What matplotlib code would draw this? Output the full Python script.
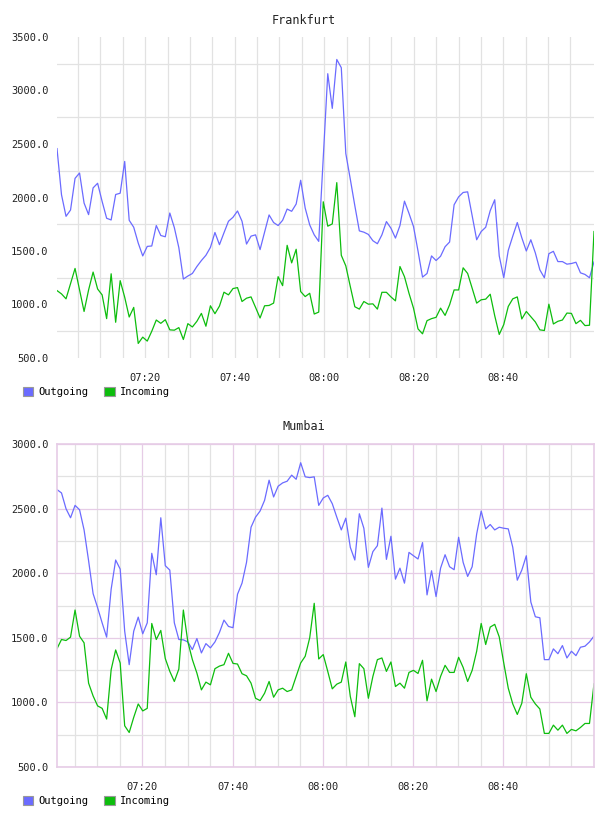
import pandas as pd
import matplotlib
matplotlib.use("Agg")
import matplotlib.pyplot as plt
import matplotlib.dates as mdates
from matplotlib.patches import Patch
from matplotlib.ticker import FormatStrFormatter

plt.rcParams['font.family'] = ['DejaVu Sans Mono']

# Frankfurt, one sample per minute
fra_out = [2457, 2025, 1824, 1883, 2179, 2229, 1948, 1840, 2090, 2133,
           1963, 1806, 1790, 2028, 2040, 2337, 1787, 1722, 1574, 1454,
           1543, 1547, 1738, 1645, 1633, 1855, 1719, 1531, 1238, 1266,
           1290, 1355, 1411, 1460, 1534, 1673, 1559, 1670, 1778, 1815,
           1874, 1778, 1565, 1639, 1651, 1513, 1676, 1837, 1766, 1738,
           1787, 1892, 1871, 1939, 2161, 1901, 1744, 1651, 1590, 2370,
           3157, 2833, 3290, 3213, 2411, 2170, 1923, 1688, 1676, 1655,
           1596, 1568, 1651, 1775, 1713, 1621, 1738, 1966, 1852, 1729,
           1500, 1256, 1290, 1454, 1411, 1451, 1540, 1584, 1932, 2006,
           2047, 2053, 1830, 1605, 1682, 1722, 1877, 1979, 1454, 1250,
           1506, 1639, 1766, 1624, 1500, 1605, 1482, 1324, 1250, 1475,
           1497, 1401, 1401, 1377, 1383, 1395, 1296, 1281, 1250, 1398]
fra_in = [1130, 1099, 1053, 1195, 1337, 1136, 935, 1136, 1303, 1145,
          1090, 868, 1287, 834, 1223, 1068, 883, 973, 636, 695,
          658, 750, 855, 824, 858, 763, 760, 784, 673, 821,
          790, 843, 917, 797, 988, 914, 985, 1115, 1090, 1149,
          1158, 1028, 1059, 1071, 973, 874, 988, 991, 1013, 1260,
          1176, 1553, 1389, 1516, 1121, 1074, 1105, 911, 929, 1960,
          1732, 1753, 2139, 1460, 1361, 1167, 979, 957, 1028, 1003,
          1006, 957, 1114, 1114, 1071, 1034, 1355, 1260, 1105, 966,
          772, 726, 849, 868, 880, 966, 898, 997, 1136, 1136,
          1343, 1290, 1152, 1013, 1044, 1050, 1096, 895, 720, 812,
          982, 1053, 1071, 865, 935, 886, 837, 763, 757, 1003,
          818, 843, 855, 920, 917, 821, 852, 803, 806, 1682]

# Mumbai
mum_out = [2647, 2621, 2499, 2429, 2525, 2491, 2335, 2097, 1842, 1733,
           1616, 1505, 1876, 2102, 2032, 1551, 1292, 1551, 1660, 1531,
           1616, 2154, 1988, 2429, 2058, 2024, 1616, 1487, 1484, 1468,
           1409, 1494, 1383, 1455, 1422, 1468, 1541, 1637, 1588, 1578,
           1837, 1923, 2084, 2356, 2434, 2481, 2564, 2720, 2590, 2673,
           2699, 2712, 2759, 2727, 2855, 2746, 2740, 2746, 2525, 2582,
           2603, 2538, 2434, 2335, 2426, 2200, 2102, 2460, 2348, 2045,
           2167, 2213, 2504, 2107, 2286, 1954, 2039, 1923, 2161, 2135,
           2110, 2237, 1832, 2019, 1819, 2039, 2143, 2050, 2027, 2278,
           2084, 1975, 2050, 2304, 2481, 2343, 2377, 2335, 2356, 2348,
           2343, 2200, 1946, 2024, 2135, 1777, 1663, 1655, 1331, 1331,
           1414, 1377, 1440, 1344, 1396, 1362, 1427, 1435, 1468, 1513]
mum_in = [1416, 1487, 1479, 1505, 1715, 1512, 1461, 1149, 1050, 973,
          954, 871, 1253, 1406, 1305, 819, 767, 884, 988, 934,
          954, 1611, 1487, 1557, 1339, 1240, 1162, 1258, 1715, 1468,
          1331, 1227, 1097, 1157, 1136, 1261, 1281, 1292, 1380, 1302,
          1297, 1222, 1206, 1149, 1032, 1014, 1071, 1162, 1040, 1097,
          1110, 1084, 1097, 1201, 1305, 1357, 1500, 1767, 1336, 1370,
          1240, 1105, 1141, 1157, 1313, 1045, 889, 1300, 1261, 1032,
          1201, 1331, 1344, 1240, 1313, 1123, 1149, 1110, 1232, 1248,
          1224, 1326, 1012, 1180, 1084, 1201, 1287, 1232, 1232, 1349,
          1271, 1162, 1248, 1396, 1611, 1448, 1583, 1604, 1507, 1305,
          1110, 988, 907, 993, 1222, 1040, 988, 949, 760, 760,
          824, 785, 824, 760, 791, 780, 806, 837, 837, 1144]

fra_time = pd.date_range("2013-05-01 07:00:17", periods=len(fra_out), freq="60500ms")
mum_time = pd.date_range("2013-05-01 07:01:04", periods=len(mum_out), freq="60s")

# labelled ticks every 20 min, grid every 5 min (inside the data range)
label_ticks = pd.date_range("2013-05-01 07:20", "2013-05-01 08:40", freq="20min")
grid_ticks = pd.date_range("2013-05-01 07:05", "2013-05-01 08:55", freq="5min")

BLUE = "#6b6bff"
GREEN = "#0dbd0d"
GREY = "#e2e2e2"
PINK = "#e6cce6"
W, H = 608, 816

fig = plt.figure(figsize=(W / 100, H / 100), dpi=100)


def panel(top, bottom, t, out, inc, ymax, title, pink):
    ax = fig.add_axes([57 / W, 1 - bottom / H, 537 / W, (bottom - top) / H])
    ax.plot(t, out, color=BLUE, lw=0.9)
    ax.plot(t, inc, color=GREEN, lw=0.9)
    ax.set_xlim(t[0], t[-1])
    ax.set_ylim(500, ymax)
    ax.set_axisbelow(True)

    ax.set_yticks(range(500, ymax + 1, 500))
    ax.set_yticks(range(750, ymax, 500), minor=True)
    ax.yaxis.set_major_formatter(FormatStrFormatter('%.1f'))
    ax.set_xticks(label_ticks)
    ax.set_xticks([g for g in grid_ticks if g.minute % 20 != 0], minor=True)
    ax.xaxis.set_major_formatter(mdates.DateFormatter('%H:%M'))
    ax.tick_params(which='both', length=0, labelsize=7.5, colors='#222222')
    ax.tick_params(axis='x', pad=11)
    ax.tick_params(axis='y', pad=6)

    ax.grid(which='minor', color=GREY, lw=0.9)
    if pink:
        ax.grid(which='major', color=PINK, lw=0.9)
        for s in ax.spines.values():
            s.set_color(PINK)
            s.set_linewidth(1.2)
    else:
        ax.grid(which='major', axis='x', color=GREY, lw=0.9)
        for s in ax.spines.values():
            s.set_visible(False)

    fig.text(0.5, 1 - (top - 17) / H, title, ha='center', va='center',
             fontsize=8.5, color='#222222')

    handles = [Patch(facecolor=BLUE, edgecolor='#999999', lw=0.8),
               Patch(facecolor=GREEN, edgecolor='#999999', lw=0.8)]
    fig.legend(handles, ['Outgoing', 'Incoming'], loc='center left',
               bbox_to_anchor=(23 / W, 1 - (bottom + 34) / H), ncol=2,
               frameon=False, fontsize=7.5, handlelength=1.0, handleheight=1.0,
               handletextpad=0.5, columnspacing=1.5, borderpad=0,
               borderaxespad=0)
    return ax


panel(37, 358, fra_time, fra_out, fra_in, 3500, "Frankfurt", False)
panel(444, 767, mum_time, mum_out, mum_in, 3000, "Mumbai", True)

fig.savefig("out.png", dpi=100)
